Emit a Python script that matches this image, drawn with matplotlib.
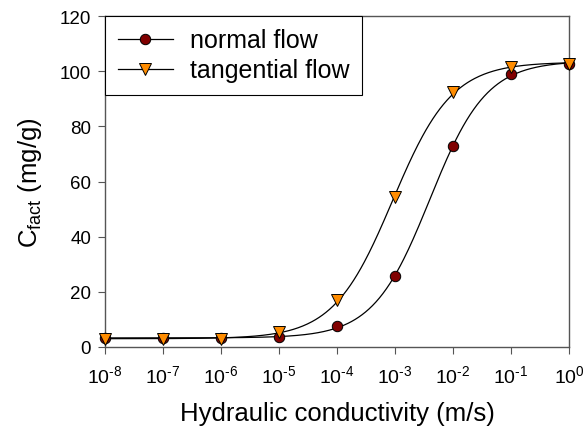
import numpy as np
import matplotlib
matplotlib.use("Agg")
import matplotlib.pyplot as plt

plt.rcParams['font.family'] = ['Liberation Sans', 'DejaVu Sans']
plt.rcParams['mathtext.fontset'] = 'custom'
plt.rcParams['mathtext.rm'] = 'Liberation Sans'
plt.rcParams['mathtext.it'] = 'Liberation Sans'
plt.rcParams['mathtext.bf'] = 'Liberation Sans'

conductivity = [1e-8, 1e-7, 1e-6, 1e-5, 1e-4, 1e-3, 1e-2, 1e-1, 1e0]
x_tick_labels = [r'$\mathregular{10^{\text{-}8}}$', r'$\mathregular{10^{\text{-}7}}$',
                 r'$\mathregular{10^{\text{-}6}}$', r'$\mathregular{10^{\text{-}5}}$',
                 r'$\mathregular{10^{\text{-}4}}$', r'$\mathregular{10^{\text{-}3}}$',
                 r'$\mathregular{10^{\text{-}2}}$', r'$\mathregular{10^{\text{-}1}}$',
                 r'$\mathregular{10^{0}}$']
normal_flow = [3.2, 3.1, 3.3, 3.8, 7.5, 25.8, 72.8, 99.0, 102.5]
tangential_flow = [3.0, 2.8, 3.0, 5.3, 17.0, 54.5, 92.5, 101.5, 102.5]
y_ticks = [0, 20, 40, 60, 80, 100, 120]


def fit_logistic(x, y):
    lx = np.log10(np.asarray(x))
    y = np.asarray(y)
    best = None
    for c in np.linspace(-5, 0, 501):
        for d in np.linspace(0.3, 2.0, 171):
            s = 1.0 / (1.0 + 10 ** ((c - lx) * d))
            A = np.column_stack([np.ones_like(s), s])
            coef, *_ = np.linalg.lstsq(A, y, rcond=None)
            r = np.sum((A @ coef - y) ** 2)
            if best is None or r < best[0]:
                best = (r, c, d, coef)
    _, c, d, coef = best

    def f(xx):
        s = 1.0 / (1.0 + 10 ** ((c - np.log10(xx)) * d))
        return coef[0] + coef[1] * s
    return f


fig = plt.figure(figsize=(5.84, 4.27), dpi=100)
ax = fig.add_axes([105/584, 79/427, 464/584, 331/427])

xs = np.logspace(-8, 0, 400)
f_n = fit_logistic(conductivity, normal_flow)
f_t = fit_logistic(conductivity, tangential_flow)
ax.plot(xs, f_n(xs), color='black', lw=0.9, zorder=2)
ax.plot(xs, f_t(xs), color='black', lw=0.9, zorder=2)

ax.plot(conductivity, normal_flow, linestyle='none', marker='o', markersize=7.5,
        markerfacecolor='#800000', markeredgecolor='black', markeredgewidth=0.7,
        clip_on=False, zorder=3)
ax.plot(conductivity, tangential_flow, linestyle='none', marker='v', markersize=8.5,
        markerfacecolor='#FF8C00', markeredgecolor='black', markeredgewidth=0.7,
        clip_on=False, zorder=4)

# legend handles
h1, = ax.plot([], [], color='black', lw=0.9, marker='o', markersize=7.5,
              markerfacecolor='#800000', markeredgecolor='black', markeredgewidth=0.7)
h2, = ax.plot([], [], color='black', lw=0.9, marker='v', markersize=8.5,
              markerfacecolor='#FF8C00', markeredgecolor='black', markeredgewidth=0.7)
leg = ax.legend([h1, h2], ['normal flow', 'tangential flow'], loc='upper left',
                bbox_to_anchor=(0.0, 1.0), fontsize=18, fancybox=False,
                framealpha=1, edgecolor='black', borderaxespad=0.0,
                handlelength=2.2, handletextpad=0.7, labelspacing=0.23,
                borderpad=0.5)
leg.get_frame().set_linewidth(0.8)

ax.set_xscale('log')
ax.set_xlim(1e-8, 1e0)
ax.set_ylim(0, 120)
ax.set_yticks(y_ticks)
ax.set_xticks(conductivity)
ax.set_xticklabels(x_tick_labels)
ax.xaxis.set_minor_locator(matplotlib.ticker.NullLocator())
ax.tick_params(axis='both', labelsize=13.5, direction='out', length=5,
               width=0.8, color='#555555')
ax.tick_params(axis='x', labelsize=14, pad=7.5)
ax.tick_params(axis='y', pad=5)
for s in ax.spines.values():
    s.set_color('#555555')
    s.set_linewidth(1.0)

ax.set_xlabel('Hydraulic conductivity (m/s)', fontsize=18.5, labelpad=10.5)
ax.set_ylabel(r'C$_{\mathregular{fact}}$ (mg/g)', fontsize=18.5, labelpad=11.5)

fig.savefig('out.png', dpi=100)
